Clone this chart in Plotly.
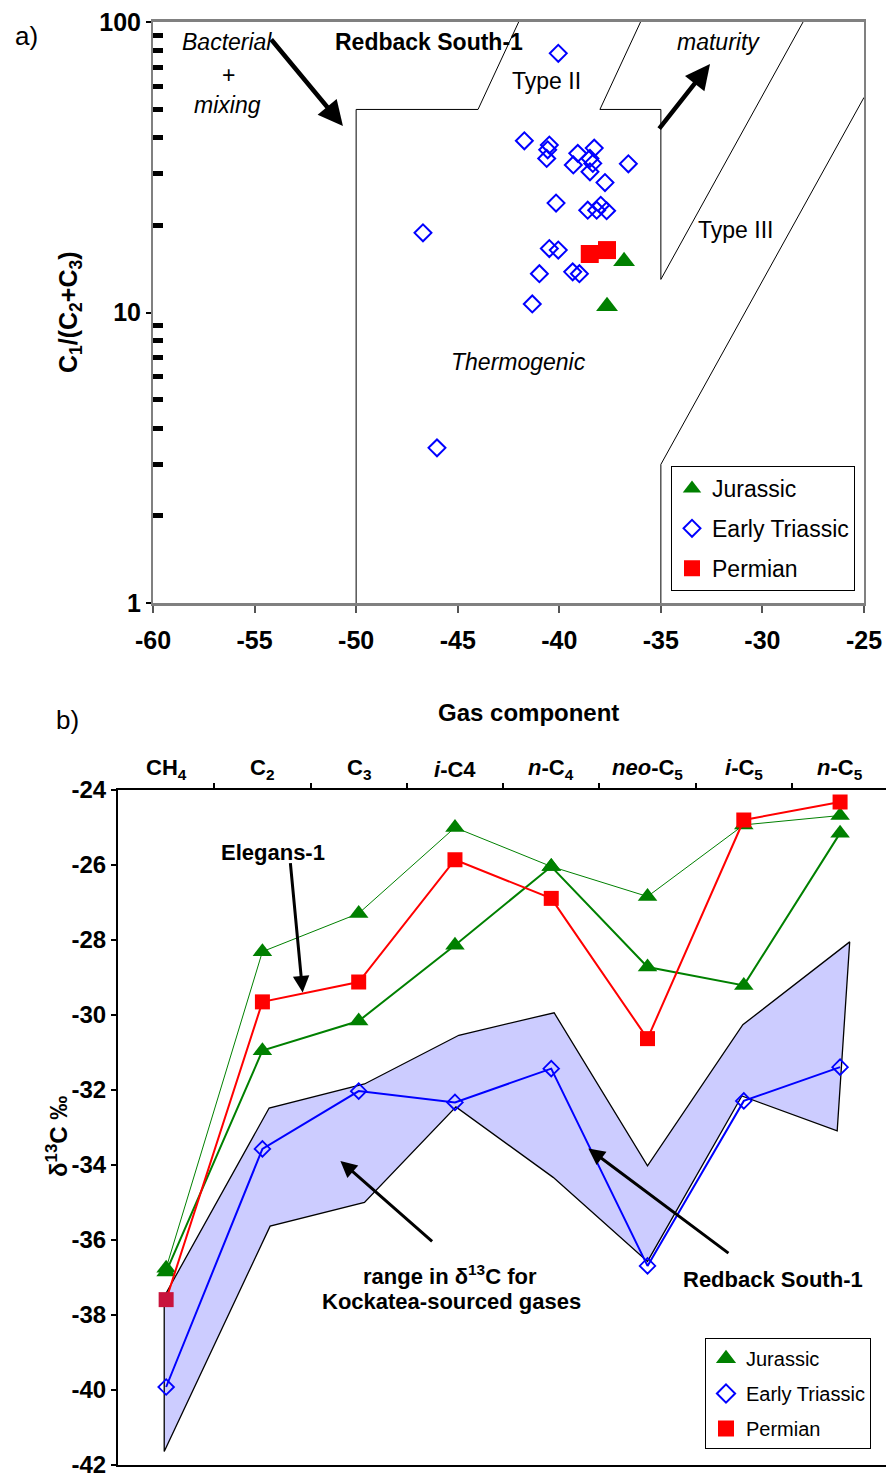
import plotly.graph_objects as go

FONT = "Arial, Liberation Sans, sans-serif"

# ---------------- Panel a) : C1/(C2+C3) vs delta13C(C1) ----------------
a_x_ticks = [-60, -55, -50, -45, -40, -35, -30, -25]
a_x_ticklabels = ["-60", "-55", "-50", "-45", "-40", "-35", "-30", "-25"]
a_y_ticks = [1, 10, 100]
a_y_ticklabels = ["1", "10", "100"]
a_y_minor = [2, 3, 4, 5, 6, 7, 8, 9, 20, 30, 40, 50, 60, 70, 80, 90]

a_triassic_x = [-40.05, -41.72, -40.49, -40.57, -40.62, -39.09, -38.28, -38.49, -38.35,
                -38.49, -39.31, -36.60, -37.75, -40.16, -38.60, -38.16, -37.96, -37.67,
                -40.49, -40.05, -40.98, -39.34, -39.01, -41.33, -46.71, -46.02]
a_triassic_y = [78.0, 39.0, 37.7, 36.3, 33.9, 35.3, 36.8, 33.9, 32.6,
                30.5, 32.2, 32.5, 28.0, 23.8, 22.5, 22.5, 23.4, 22.4,
                16.6, 16.4, 13.6, 13.8, 13.6, 10.7, 18.8, 3.42]
a_jurassic_x = [-36.81, -37.65]
a_jurassic_y = [15.0, 10.5]
a_permian_x = [-38.50, -37.65]
a_permian_y = [15.9, 16.4]

# genetic-field boundaries
bound1_x = [-50, -50, -44, -42]
bound1_y = [1, 50, 50, 100]
bound2_x = [-36, -38, -35, -35, -28]
bound2_y = [100, 50, 50, 13, 100]
bound3_x = [-35, -35, -25]
bound3_y = [1, 3, 55]

# ---------------- Panel b) : delta13C of gas components ----------------
components = ["CH<sub>4</sub>", "C<sub>2</sub>", "C<sub>3</sub>", "<i>i</i>-C4",
              "<i>n</i>-C<sub>4</sub>", "<i>neo</i>-C<sub>5</sub>", "<i>i</i>-C<sub>5</sub>",
              "<i>n</i>-C<sub>5</sub>"]
comp_pos = [0, 1, 2, 3, 4, 5, 6, 7]
b_y_ticks = [-24, -26, -28, -30, -32, -34, -36, -38, -40, -42]
b_y_ticklabels = ["-24", "-26", "-28", "-30", "-32", "-34", "-36", "-38", "-40", "-42"]

b_jurassic_1 = [-36.75, -28.31, -27.29, -25.00, -26.04, -26.84, -24.93, -24.68]
b_jurassic_2 = [-36.85, -30.95, -30.16, -28.14, -26.04, -28.72, -29.21, -25.15]
b_permian = [-37.59, -29.65, -29.12, -25.86, -26.89, -30.63, -24.80, -24.32]
b_triassic = [-39.92, -33.57, -32.03, -32.33, -31.43, -36.69, -32.29, -31.39]

band_upper_x = [-0.02, 1.07, 2.06, 3.04, 4.03, 5.00, 5.99, 7.10]
band_upper = [-37.51, -32.48, -31.84, -30.54, -29.94, -34.02, -30.26, -28.05]
band_lower_x = [-0.02, 1.08, 2.06, 3.01, 4.02, 5.00, 5.98, 6.97]
band_lower = [-41.64, -35.63, -35.00, -32.45, -34.33, -36.57, -32.16, -33.09]

GREEN = "#008000"
RED = "#FF0000"
BLUE = "#0000FF"

fig = go.Figure()

# ---- panel a traces ----
for bx, by in [(bound1_x, bound1_y), (bound2_x, bound2_y), (bound3_x, bound3_y)]:
    fig.add_trace(go.Scatter(x=bx, y=by, mode="lines", line=dict(color="black", width=1),
                             showlegend=False, hoverinfo="skip", xaxis="x", yaxis="y"))

fig.add_trace(go.Scatter(x=a_triassic_x, y=a_triassic_y, mode="markers", name="Early Triassic",
                         marker=dict(symbol="diamond-open", size=13, color=BLUE, line=dict(width=2, color=BLUE)),
                         legend="legend", legendgroup="a2", legendrank=2, xaxis="x", yaxis="y"))
fig.add_trace(go.Scatter(x=a_permian_x, y=a_permian_y, mode="markers", name="Permian",
                         marker=dict(symbol="square", size=18, color=RED),
                         legend="legend", legendgroup="a3", legendrank=3, xaxis="x", yaxis="y"))
fig.add_trace(go.Scatter(x=a_jurassic_x, y=a_jurassic_y, mode="markers", name="Jurassic",
                         marker=dict(symbol="triangle-up", size=19, color=GREEN),
                         legend="legend", legendgroup="a1", legendrank=1, xaxis="x", yaxis="y"))

# ---- panel b traces ----
band_x = band_upper_x + band_lower_x[::-1] + [band_upper_x[0]]
band_y = band_upper + band_lower[::-1] + [band_upper[0]]
fig.add_trace(go.Scatter(x=band_x, y=band_y, mode="lines", fill="toself", fillcolor="#CCCCFF",
                         line=dict(color="black", width=1.3), showlegend=False, hoverinfo="skip",
                         xaxis="x2", yaxis="y2"))
fig.add_trace(go.Scatter(x=comp_pos, y=b_jurassic_1, mode="lines+markers",
                         line=dict(color=GREEN, width=1),
                         marker=dict(symbol="triangle-up", size=17, color=GREEN),
                         showlegend=False, xaxis="x2", yaxis="y2"))
fig.add_trace(go.Scatter(x=comp_pos, y=b_jurassic_2, mode="lines+markers",
                         line=dict(color=GREEN, width=2),
                         marker=dict(symbol="triangle-up", size=17, color=GREEN),
                         showlegend=False, xaxis="x2", yaxis="y2"))
fig.add_trace(go.Scatter(x=comp_pos, y=b_permian, mode="lines+markers",
                         line=dict(color=RED, width=2),
                         marker=dict(symbol="square", size=15,
                                     color=["#C8143C"] + [RED] * (len(b_permian) - 1)),
                         showlegend=False, xaxis="x2", yaxis="y2"))
fig.add_trace(go.Scatter(x=comp_pos, y=b_triassic, mode="lines+markers",
                         line=dict(color=BLUE, width=2),
                         marker=dict(symbol="diamond-open", size=12, color=BLUE, line=dict(width=1.8, color=BLUE)),
                         showlegend=False, xaxis="x2", yaxis="y2"))

# legend entries for panel b (markers only)
for nm, sym, col, rk in [("Jurassic", "triangle-up", GREEN, 1),
                         ("Early Triassic", "diamond-open", BLUE, 2),
                         ("Permian", "square", RED, 3)]:
    fig.add_trace(go.Scatter(x=[None], y=[None], mode="markers", name=nm,
                             marker=dict(symbol=sym, size=14, color=col, line=dict(width=2, color=col)),
                             legend="legend2", legendgroup="b%d" % rk, legendrank=rk,
                             xaxis="x2", yaxis="y2"))

W, H = 886, 1475

annotations = []

def txt(text, x, y, size, xref="x", yref="y", bold=False, italic=False, **kw):
    t = text
    if bold:
        t = "<b>" + t + "</b>"
    if italic:
        t = "<i>" + t + "</i>"
    annotations.append(dict(text=t, x=x, y=y, xref=xref, yref=yref, showarrow=False,
                            xanchor="center", yanchor="middle",
                            font=dict(family=FONT, size=size, color="black"), **kw))

def arrow(x0, y0, x1, y1, xref, yref, width):
    annotations.append(dict(text="", x=x1, y=y1, ax=x0, ay=y0, xref=xref, yref=yref,
                            axref=xref, ayref=yref, showarrow=True, arrowhead=2,
                            arrowsize=1.1, arrowwidth=width, arrowcolor="black",
                            standoff=0, startstandoff=0))

# panel a labels (log axis -> log10 positions)
txt("a)", 26 / W, 1 - 36 / H, 26, xref="paper", yref="paper")
txt("<i>Bacterial</i>", -56.36, 1.932, 23)
txt("+", -56.26, 1.818, 23)
txt("<i>mixing</i>", -56.31, 1.714, 23)
txt("Redback South-1", -46.41, 1.931, 23, bold=True)
txt("Type II", -40.62, 1.798, 23)
txt("<i>maturity</i>", -32.14, 1.930, 23)
txt("Type III", -31.35, 1.284, 23)
txt("<i>Thermogenic</i>", -42.03, 0.830, 23)
arrow(-54.24, 1.945, -50.65, 1.642, "x", "y", 4.5)
arrow(-35.14, 1.628, -32.58, 1.855, "x", "y", 4.5)
txt("C<sub>1</sub>/(C<sub>2</sub>+C<sub>3</sub>)", 70 / W, 1 - 312 / H, 25,
    xref="paper", yref="paper", bold=True, textangle=-90)

# panel b labels
txt("b)", 67 / W, 1 - 720 / H, 26, xref="paper", yref="paper")
txt("Gas component", 528 / W, 1 - 713 / H, 24, xref="paper", yref="paper", bold=True)
for lab, pos in zip(components, comp_pos):
    annotations.append(dict(text="<b>" + lab + "</b>", x=pos, y=1 - 769 / H, xref="x2", yref="paper",
                            xanchor="center", yanchor="middle",
                            showarrow=False, font=dict(family=FONT, size=22, color="black")))
txt("δ<sup>13</sup>C ‰", 57 / W, 1 - 1137 / H, 24, xref="paper", yref="paper", bold=True, textangle=-90)
txt("Elegans-1", 1.105, -25.66, 22, xref="x2", yref="y2", bold=True)
arrow(1.289, -25.91, 1.418, -29.40, "x2", "y2", 3)
txt("range in δ<sup>13</sup>C for", 2.945, -36.92, 22, xref="x2", yref="y2", bold=True)
txt("Kockatea-sourced gases", 2.966, -37.63, 22, xref="x2", yref="y2", bold=True)
arrow(2.778, -36.07, 1.810, -33.89, "x2", "y2", 3)
txt("Redback South-1", 6.305, -37.05, 22, xref="x2", yref="y2", bold=True)
arrow(5.856, -36.38, 4.385, -33.56, "x2", "y2", 3)

boundaries = [(a + b) / 2 for a, b in zip(comp_pos[:-1], comp_pos[1:])]

fig.update_layout(
    width=W, height=H,
    margin=dict(l=0, r=0, t=0, b=0, autoexpand=False),
    paper_bgcolor="white", plot_bgcolor="white",
    font=dict(family=FONT, color="black"),
    annotations=annotations,
    xaxis=dict(domain=[153 / W, 864 / W], anchor="y", range=[-60, -25], automargin=False,
               tickmode="array", tickvals=a_x_ticks, ticktext=a_x_ticklabels,
               ticks="outside", ticklen=7, tickwidth=2, tickcolor="#555555",
               tickfont=dict(family=FONT, size=25, weight="bold", color="black"),
               ticklabelstandoff=6, ticklabeloverflow="allow",
               showline=True, linecolor="#808080", linewidth=3, mirror=True,
               showgrid=False, zeroline=False),
    yaxis=dict(domain=[1 - 603 / H, 1 - 22 / H], anchor="x", type="log", range=[0, 2],
               automargin=False, ticklabeloverflow="allow",
               tickmode="array", tickvals=a_y_ticks, ticktext=a_y_ticklabels,
               ticks="outside", ticklen=5, tickwidth=1.5, tickcolor="black",
               tickfont=dict(family=FONT, size=25, weight="bold", color="black"),
               minor=dict(tickmode="array", tickvals=a_y_minor, ticks="inside",
                          ticklen=10, tickwidth=5, tickcolor="black", showgrid=False),
               showline=True, linecolor="#808080", linewidth=2, mirror=True,
               showgrid=False, zeroline=False),
    xaxis2=dict(domain=[118 / W, 1.0], anchor="y2", side="top", range=[-0.5, 7.477],
                automargin=False,
                tickmode="array", tickvals=boundaries, ticks="outside", ticklen=5,
                tickwidth=1.5, tickcolor="black", showticklabels=False,
                showline=True, linecolor="black", linewidth=2, mirror=True,
                showgrid=False, zeroline=False),
    yaxis2=dict(domain=[1 - 1465 / H, 1 - 790 / H], anchor="x2", range=[-42, -24],
                automargin=False, ticklabeloverflow="allow",
                tickmode="array", tickvals=b_y_ticks, ticktext=b_y_ticklabels,
                ticks="outside", ticklen=5, tickwidth=1.5, tickcolor="black",
                tickfont=dict(family=FONT, size=24, weight="bold", color="black"),
                showline=True, linecolor="black", linewidth=2, mirror=False,
                showgrid=False, zeroline=False),
    legend=dict(x=671 / W, y=1 - 466 / H, xanchor="left", yanchor="top",
                bgcolor="white", bordercolor="black", borderwidth=1,
                font=dict(family=FONT, size=23, color="black"),
                tracegroupgap=7, traceorder="grouped"),
    legend2=dict(x=705 / W, y=1 - 1338 / H, xanchor="left", yanchor="top",
                 bgcolor="white", bordercolor="black", borderwidth=1,
                 font=dict(family=FONT, size=20, color="black"),
                 tracegroupgap=6, traceorder="grouped"),
)

fig.write_html("out.html", config={"displayModeBar": False},
               post_script="document.body.style.margin='0';document.body.style.overflow='hidden';")
